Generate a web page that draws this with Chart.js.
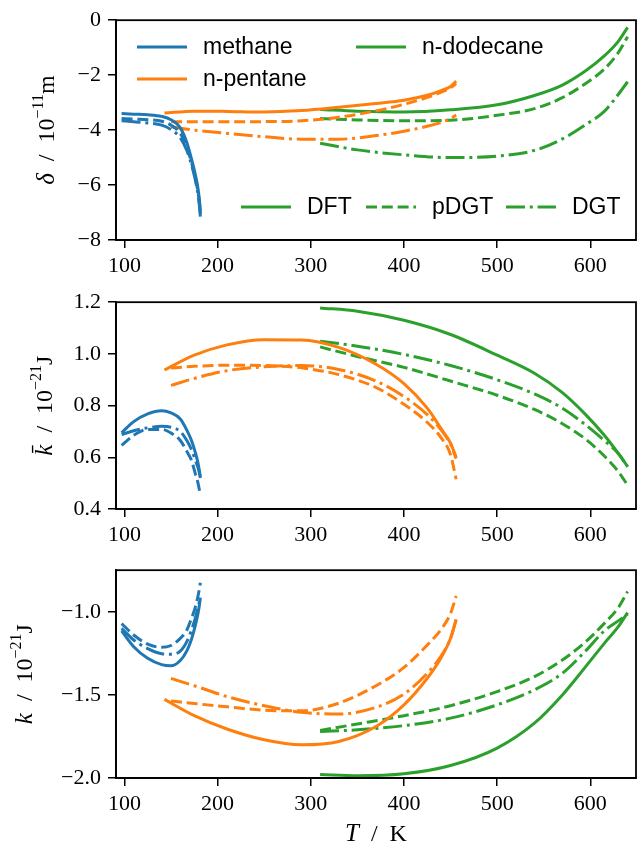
<!DOCTYPE html>
<html>
<head>
<meta charset="utf-8">
<script src="https://cdn.jsdelivr.net/npm/chart.js@4.4.0/dist/chart.umd.min.js"></script>
<style>
  body { margin: 0; background: #fff; }
  #wrap { position: relative; width: 644px; height: 848px; }
  canvas { position: absolute; left: 0; }
</style>
</head>
<body>
<div id="wrap">
  <canvas id="deltaChart" width="644" height="282" style="top:0px"></canvas>
  <canvas id="kbarChart" width="644" height="268" style="top:282px"></canvas>
  <canvas id="kChart" width="644" height="298" style="top:550px"></canvas>
</div>
<script>
// temperatures (K)
const methaneT = [97, 110, 125, 140, 150, 160, 167, 172, 176, 179, 181, 181.5];
const pentaneT_DFT = [143, 175, 210, 250, 290, 330, 370, 400, 425, 440, 450, 456];
const pentaneT_GT = [150, 175, 210, 250, 290, 330, 370, 400, 425, 440, 450, 456];
const dodecaneT = [310, 350, 400, 450, 500, 540, 570, 595, 615, 630, 640];

// delta / 1e-11 m
const deltaMethaneDFT = [-3.40, -3.42, -3.44, -3.50, -3.62, -3.92, -4.45, -5.05, -5.60, -6.12, -6.70, -6.93];
const deltaMethanePDGT = [-3.58, -3.60, -3.62, -3.68, -3.82, -4.12, -4.62, -5.18, -5.74, -6.26, -6.82, -7.05];
const deltaMethaneDGT = [-3.66, -3.70, -3.74, -3.82, -3.98, -4.28, -4.74, -5.26, -5.80, -6.34, -6.92, -7.15];
const deltaPentaneDFT = [-3.38, -3.31, -3.32, -3.34, -3.29, -3.17, -3.03, -2.91, -2.73, -2.56, -2.41, -2.22];
const deltaPentanePDGT = [-3.70, -3.70, -3.70, -3.69, -3.66, -3.53, -3.30, -3.06, -2.81, -2.62, -2.46, -2.31];
const deltaPentaneDGT = [-3.88, -4.00, -4.12, -4.24, -4.33, -4.33, -4.20, -4.04, -3.86, -3.72, -3.58, -3.45];
const deltaDodecaneDFT = [-3.25, -3.31, -3.34, -3.26, -3.08, -2.74, -2.36, -1.84, -1.30, -0.77, -0.26];
const deltaDodecanePDGT = [-3.58, -3.63, -3.66, -3.64, -3.46, -3.22, -2.82, -2.30, -1.78, -1.18, -0.60];
const deltaDodecaneDGT = [-4.48, -4.72, -4.90, -5.00, -4.95, -4.74, -4.32, -3.80, -3.32, -2.70, -2.24];

// k bar / 1e-21 J
const kbarMethaneDFT = [0.695, 0.738, 0.768, 0.780, 0.772, 0.748, 0.705, 0.665, 0.620, 0.578, 0.535, 0.520];
const kbarMethanePDGT = [0.646, 0.685, 0.708, 0.708, 0.694, 0.665, 0.623, 0.588, 0.538, 0.500, 0.465, 0.456];
const kbarMethaneDGT = [0.688, 0.703, 0.714, 0.720, 0.716, 0.700, 0.665, 0.630, 0.590, 0.560, 0.532, 0.525];
const kbarPentaneDFT = [0.938, 0.995, 1.035, 1.055, 1.054, 1.025, 0.960, 0.885, 0.790, 0.710, 0.655, 0.600];
const kbarPentanePDGT = [0.945, 0.952, 0.956, 0.955, 0.946, 0.920, 0.870, 0.805, 0.735, 0.675, 0.610, 0.515];
const kbarPentaneDGT = [0.878, 0.905, 0.935, 0.950, 0.955, 0.940, 0.895, 0.835, 0.765, 0.705, 0.650, 0.595];
const kbarDodecaneDFT = [1.178, 1.165, 1.130, 1.075, 0.995, 0.925, 0.850, 0.765, 0.685, 0.615, 0.565];
const kbarDodecanePDGT = [1.027, 0.990, 0.948, 0.895, 0.840, 0.785, 0.730, 0.670, 0.605, 0.545, 0.492];
const kbarDodecaneDGT = [1.049, 1.030, 0.998, 0.955, 0.900, 0.845, 0.790, 0.725, 0.665, 0.615, 0.563];

// k / 1e-21 J
const kMethaneDFT = [-1.115, -1.210, -1.280, -1.318, -1.325, -1.293, -1.235, -1.165, -1.085, -1.010, -0.940, -0.915];
const kMethanePDGT = [-1.071, -1.140, -1.195, -1.214, -1.203, -1.160, -1.110, -1.040, -0.975, -0.905, -0.845, -0.825];
const kMethaneDGT = [-1.100, -1.170, -1.222, -1.252, -1.255, -1.237, -1.180, -1.110, -1.040, -0.975, -0.925, -0.915];
const kPentaneDFT = [-1.527, -1.625, -1.705, -1.770, -1.800, -1.780, -1.690, -1.560, -1.400, -1.275, -1.160, -1.045];
const kPentanePDGT = [-1.537, -1.552, -1.572, -1.592, -1.596, -1.550, -1.445, -1.335, -1.200, -1.105, -1.010, -0.905];
const kPentaneDGT = [-1.401, -1.445, -1.510, -1.565, -1.605, -1.615, -1.575, -1.495, -1.370, -1.265, -1.160, -1.050];
const kDodecaneDFT = [-1.979, -1.987, -1.975, -1.925, -1.820, -1.670, -1.500, -1.330, -1.190, -1.090, -1.005];
const kDodecanePDGT = [-1.714, -1.675, -1.625, -1.565, -1.480, -1.390, -1.290, -1.180, -1.070, -0.975, -0.878];
const kDodecaneDGT = [-1.720, -1.710, -1.685, -1.640, -1.560, -1.470, -1.370, -1.235, -1.115, -1.055, -1.015];

// axis ticks
const xTicks = [100, 200, 300, 400, 500, 600];
const deltaTicks = [-8, -6, -4, -2, 0];
const kbarTicks = [0.4, 0.6, 0.8, 1.0, 1.2];
const kTicks = [-2.0, -1.5, -1.0];

const substances = ['methane', 'n-pentane', 'n-dodecane'];
const methods = ['DFT', 'pDGT', 'DGT'];

const colors = { methane: '#1f77b4', 'n-pentane': '#ff7f0e', 'n-dodecane': '#2ca02c' };
const LW = 3;
const dashes = { DFT: [], pDGT: [11, 4.8], DGT: [19, 4.8, 3, 4.8] };
const serif = '"Liberation Serif", "DejaVu Serif", serif';
const sans = '"Liberation Sans", Arial, sans-serif';

function line(T, vals, sub, meth) {
    return {
        label: sub + ' ' + meth,
        data: T.map((t, i) => ({ x: t, y: vals[i] })),
        borderColor: colors[sub],
        borderDash: dashes[meth],
        borderWidth: LW,
        pointRadius: 0,
        fill: false,
        cubicInterpolationMode: 'monotone'
    };
}

function minus(s) { return String(s).replace('-', '\u2212'); }

// draws text made of several font runs, optionally rotated
function drawRich(ctx, parts, cx, by, rotated) {
    ctx.save();
    ctx.translate(cx, by);
    if (rotated) ctx.rotate(-Math.PI / 2);
    let total = 0;
    parts.forEach(p => { ctx.font = p.font; p.w = ctx.measureText(p.text).width; total += p.w; });
    let x = -total / 2;
    ctx.fillStyle = '#000';
    ctx.textBaseline = 'alphabetic';
    ctx.textAlign = 'left';
    parts.forEach(p => { ctx.font = p.font; ctx.fillText(p.text, x, p.dy || 0); x += p.w; });
    ctx.restore();
}

const frame = {
    id: 'frame',
    afterDraw(chart) {
        const { ctx, chartArea: a } = chart;
        ctx.save();
        ctx.strokeStyle = '#000';
        ctx.lineWidth = 1.8;
        ctx.strokeRect(a.left, a.top, a.right - a.left, a.bottom - a.top);
        ctx.restore();
        const o = chart.options.plugins.frame;
        if (o && o.yTitle) {
            drawRich(ctx, o.yTitle, o.yTitleX, (a.top + a.bottom) / 2, true);
        }
        if (o && o.xTitle) {
            drawRich(ctx, o.xTitle, (a.left + a.right) / 2, o.xTitleY, false);
        }
    }
};

const legends = {
    id: 'legends',
    afterDraw(chart) {
        const o = chart.options.plugins.legends;
        if (!o) return;
        const ctx = chart.ctx;
        ctx.save();
        ctx.font = '23px ' + sans;
        ctx.textBaseline = 'middle';
        ctx.fillStyle = '#000';
        o.items.forEach(it => {
            ctx.beginPath();
            ctx.strokeStyle = it.color;
            ctx.lineWidth = LW;
            ctx.setLineDash(it.dash);
            ctx.moveTo(it.x, it.y);
            ctx.lineTo(it.x + 50, it.y);
            ctx.stroke();
            ctx.setLineDash([]);
            ctx.fillText(it.text, it.x + 66, it.y + 1);
        });
        ctx.restore();
    }
};

function makeChart(id, datasets, yMin, yMax, yTickVals, yFmt, padTop, xHeight, extra) {
    return new Chart(document.getElementById(id), {
        type: 'line',
        data: { datasets: datasets },
        options: {
            responsive: false,
            animation: false,
            devicePixelRatio: 1,
            layout: { padding: { left: 0, right: 8, top: padTop, bottom: 0 } },
            plugins: Object.assign({ legend: { display: false }, tooltip: { enabled: false } }, extra),
            scales: {
                x: {
                    type: 'linear', min: 91, max: 649,
                    afterBuildTicks: s => { s.ticks = xTicks.map(v => ({ value: v })); },
                    afterFit: s => { s.height = xHeight; },
                    grid: { drawOnChartArea: false, drawTicks: true, tickLength: 8, color: '#000', lineWidth: 1.5 },
                    border: { display: true, color: '#000', width: 1.8 },
                    ticks: { color: '#000', font: { family: serif, size: 22 }, padding: 5, maxRotation: 0 }
                },
                y: {
                    type: 'linear', min: yMin, max: yMax,
                    afterBuildTicks: s => { s.ticks = yTickVals.map(v => ({ value: v })); },
                    afterFit: s => { s.width = 116; },
                    grid: { drawOnChartArea: false, drawTicks: true, tickLength: 8, color: '#000', lineWidth: 1.5 },
                    border: { display: true, color: '#000', width: 1.8 },
                    ticks: { color: '#000', font: { family: serif, size: 22 }, padding: 7, callback: yFmt }
                }
            }
        },
        plugins: [frame, legends]
    });
}

const it = 'italic 25px ' + serif;
const rm = '24px ' + serif;
const sup = '16px ' + serif;

makeChart('deltaChart', [
    line(methaneT, deltaMethaneDFT, 'methane', 'DFT'),
    line(methaneT, deltaMethanePDGT, 'methane', 'pDGT'),
    line(methaneT, deltaMethaneDGT, 'methane', 'DGT'),
    line(pentaneT_DFT, deltaPentaneDFT, 'n-pentane', 'DFT'),
    line(pentaneT_GT, deltaPentanePDGT, 'n-pentane', 'pDGT'),
    line(pentaneT_GT, deltaPentaneDGT, 'n-pentane', 'DGT'),
    line(dodecaneT, deltaDodecaneDFT, 'n-dodecane', 'DFT'),
    line(dodecaneT, deltaDodecanePDGT, 'n-dodecane', 'pDGT'),
    line(dodecaneT, deltaDodecaneDGT, 'n-dodecane', 'DGT')
], -8, 0, deltaTicks, v => minus(v), 17, 42, {
    frame: {
        yTitleX: 54,
        yTitle: [
            { text: 'δ', font: it }, { text: '  /  10', font: rm },
            { text: '\u221211', font: sup, dy: -11 }, { text: 'm', font: rm }
        ]
    },
    legends: {
        items: [
            { text: substances[0], color: colors.methane, dash: [], x: 137, y: 47 },
            { text: substances[1], color: colors['n-pentane'], dash: [], x: 137, y: 79 },
            { text: substances[2], color: colors['n-dodecane'], dash: [], x: 356, y: 47 },
            { text: methods[0], color: colors['n-dodecane'], dash: dashes.DFT, x: 241, y: 207 },
            { text: methods[1], color: colors['n-dodecane'], dash: dashes.pDGT, x: 366, y: 207 },
            { text: methods[2], color: colors['n-dodecane'], dash: dashes.DGT, x: 506, y: 207 }
        ]
    }
});

makeChart('kbarChart', [
    line(methaneT, kbarMethaneDFT, 'methane', 'DFT'),
    line(methaneT, kbarMethanePDGT, 'methane', 'pDGT'),
    line(methaneT, kbarMethaneDGT, 'methane', 'DGT'),
    line(pentaneT_DFT, kbarPentaneDFT, 'n-pentane', 'DFT'),
    line(pentaneT_GT, kbarPentanePDGT, 'n-pentane', 'pDGT'),
    line(pentaneT_GT, kbarPentaneDGT, 'n-pentane', 'DGT'),
    line(dodecaneT, kbarDodecaneDFT, 'n-dodecane', 'DFT'),
    line(dodecaneT, kbarDodecanePDGT, 'n-dodecane', 'pDGT'),
    line(dodecaneT, kbarDodecaneDGT, 'n-dodecane', 'DGT')
], 0.4, 1.2, kbarTicks, v => v.toFixed(1), 3, 41, {
    frame: {
        yTitleX: 52,
        yTitle: [
            { text: 'k\u0304', font: it }, { text: '  /  10', font: rm },
            { text: '\u221221', font: sup, dy: -11 }, { text: 'J', font: rm }
        ]
    }
});

makeChart('kChart', [
    line(methaneT, kMethaneDFT, 'methane', 'DFT'),
    line(methaneT, kMethanePDGT, 'methane', 'pDGT'),
    line(methaneT, kMethaneDGT, 'methane', 'DGT'),
    line(pentaneT_DFT, kPentaneDFT, 'n-pentane', 'DFT'),
    line(pentaneT_GT, kPentanePDGT, 'n-pentane', 'pDGT'),
    line(pentaneT_GT, kPentaneDGT, 'n-pentane', 'DGT'),
    line(dodecaneT, kDodecaneDFT, 'n-dodecane', 'DFT'),
    line(dodecaneT, kDodecanePDGT, 'n-dodecane', 'pDGT'),
    line(dodecaneT, kDodecaneDGT, 'n-dodecane', 'DGT')
], -2.0, -0.75, kTicks, v => minus(v.toFixed(1)), 4, 70, {
    frame: {
        yTitleX: 32,
        yTitle: [
            { text: 'k', font: it }, { text: '  /  10', font: rm },
            { text: '\u221221', font: sup, dy: -11 }, { text: 'J', font: rm }
        ],
        xTitle: [ { text: 'T', font: it }, { text: '  /  K', font: rm } ],
        xTitleY: 291
    }
});
</script>
</body>
</html>
